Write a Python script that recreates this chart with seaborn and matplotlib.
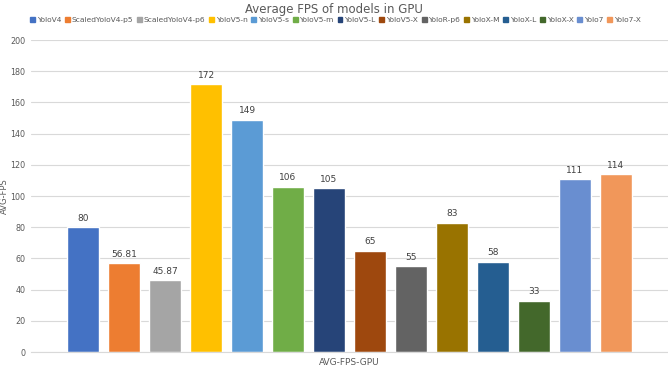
import pandas as pd
import seaborn as sns
import matplotlib.pyplot as plt

# Data
models = ['YoloV4', 'ScaledYoloV4-p5', 'ScaledYoloV4-p6', 'YoloV5-n', 'YoloV5-s',
          'YoloV5-m', 'YoloV5-L', 'YoloV5-X', 'YoloR-p6', 'YoloX-M', 'YoloX-L',
          'YoloX-X', 'Yolo7', 'Yolo7-X']
fps = [80, 56.81, 45.87, 172, 149, 106, 105, 65, 55, 83, 58, 33, 111, 114]
value_labels = ['80', '56.81', '45.87', '172', '149', '106', '105', '65', '55',
                '83', '58', '33', '111', '114']
colors = ['#4472C4', '#ED7D31', '#A5A5A5', '#FFC000', '#5B9BD5', '#70AD47',
          '#264478', '#9E480E', '#636363', '#997300', '#255E91', '#43682B',
          '#698ED0', '#F1975A']

df = pd.DataFrame({'group': ['AVG-FPS-GPU'] * len(models), 'model': models, 'fps': fps})

sns.set_style('white')
plt.rcParams['font.family'] = ['DejaVu Sans']

fig = plt.figure(figsize=(6.68, 3.68), dpi=100)
ax = fig.add_axes([31 / 668, 16 / 368, 637 / 668, 312 / 368])

sns.barplot(data=df, x='group', y='fps', hue='model', palette=colors,
            width=0.9, gap=0.22, saturation=1, legend=False, ax=ax)

for cont, lab in zip(ax.containers, value_labels):
    ax.bar_label(cont, labels=[lab], padding=3, fontsize=6.5, color='#404040')

ax.set_xlim(-0.5, 0.5)
ax.set_ylim(0, 200)
ax.set_yticks(range(0, 201, 20))
ax.yaxis.grid(True, color='#D9D9D9', linewidth=0.8)
ax.set_axisbelow(True)
for s in ['top', 'right', 'left']:
    ax.spines[s].set_visible(False)
ax.spines['bottom'].set_color('#D9D9D9')
ax.tick_params(axis='y', labelsize=5.8, colors='#595959', length=0, pad=4)
ax.tick_params(axis='x', labelsize=6.5, colors='#595959', length=0, pad=4)
ax.set_xlabel('')
ax.set_ylabel('AVG-FPS', fontsize=6, color='#595959')
ax.yaxis.set_label_coords(-22 / 637, 0.5)

fig.text(0.5, 0.975, 'Average FPS of models in GPU', ha='center', va='center',
         fontsize=8.5, color='#595959')

handles = [plt.Rectangle((0, 0), 1, 1, color=c) for c in colors]
fig.legend(handles, models, loc='center', bbox_to_anchor=(0.502, 0.945), ncol=14,
           frameon=False, fontsize=5.4, handlelength=0.65, handleheight=0.65,
           handletextpad=0.25, columnspacing=0.5, labelcolor='#595959')

fig.savefig('out.png', dpi=100)
